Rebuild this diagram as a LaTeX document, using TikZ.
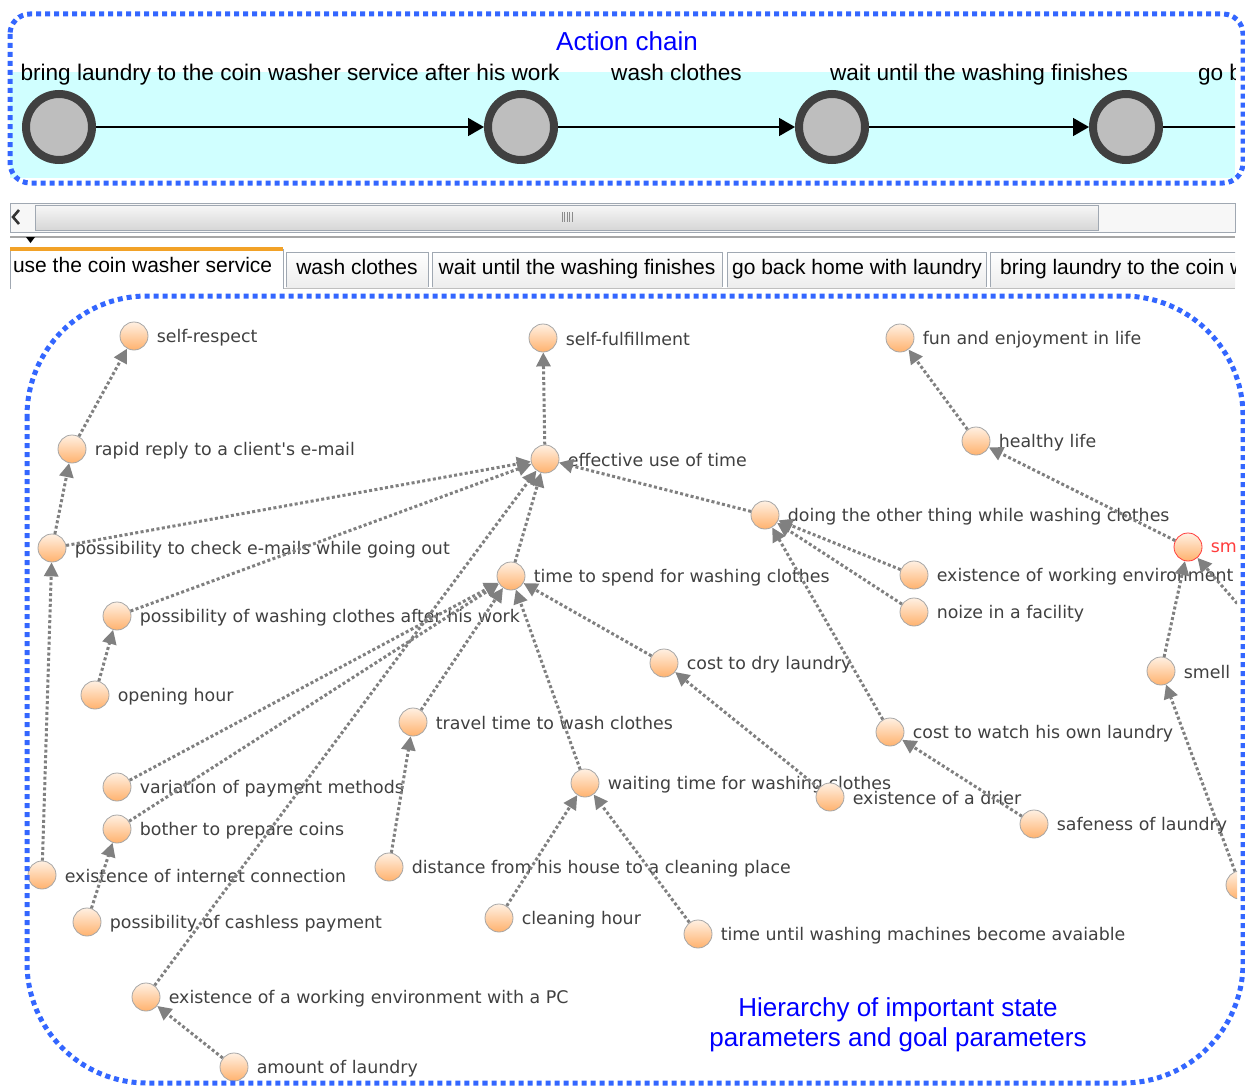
\documentclass[tikz,border=0pt]{standalone}
\usepackage{fontspec}
\setmainfont{Liberation Sans}
\newfontfamily\paramfont{DejaVu Sans}
\usetikzlibrary{arrows.meta}
\definecolor{chainblue}{RGB}{51,102,255}
\definecolor{titleblue}{RGB}{0,0,255}
\definecolor{bandcyan}{RGB}{208,255,255}
\definecolor{ringgray}{RGB}{64,64,64}
\definecolor{discgray}{RGB}{190,190,190}
\definecolor{edgegray}{RGB}{128,128,128}
\definecolor{peachtop}{RGB}{255,240,226}
\definecolor{peachbot}{RGB}{255,178,110}
\definecolor{tabedge}{RGB}{160,168,178}
\definecolor{taborange}{RGB}{242,162,40}
\definecolor{alertred}{RGB}{255,60,60}

\begin{document}
\begin{tikzpicture}[x = 0.5pt, y = -0.5pt,
  panel/.style = {draw = chainblue, line width = 2.5pt, dash pattern = on 2.5pt off 2pt},
  action/.style = {circle, draw = ringgray, fill = discgray, line width = 4pt, minimum size = 33pt, inner sep = 0pt},
  chain/.style = {black, line width = 0.75pt, -{Triangle[length = 8pt, width = 9pt]}},
  chainlabel/.style = {font = \fontsize{11.3}{13}\selectfont, text height = 8.2pt, text depth = 2.4pt, yshift = 26pt},
  param/.style = {circle, draw = black!35, top color = peachtop, bottom color = peachbot, minimum size = 14pt, inner sep = 0pt},
  every label/.style = {font = \paramfont\fontsize{8.7}{10}\selectfont, text = black!75, inner sep = 0pt, xshift = 4pt, yshift = -0.6pt},
  link/.style = {draw = edgegray, line width = 1.5pt, dash pattern = on 1.5pt off 1.2pt, -{Triangle[length = 7pt, width = 7pt, fill = edgegray]}},
  tab/.style = {draw = tabedge, top color = white, bottom color = black!7},
  tabtext/.style = {font = \fontsize{10.5}{12}\selectfont, text height = 7.6pt, text depth = 2.2pt},
  caption/.style = {font = \fontsize{13}{15}\selectfont, text = titleblue, align = center}
]
\useasboundingbox (0,0) rectangle (1245,1086);

\begin{scope}
\clip (10,14) rectangle (1235,183);
\fill [bandcyan] (10,72) rectangle (1235,178);
\node [action] (a1) at (59,127) {};
\node [action] (a2) at (521,127) {};
\node [action] (a3) at (832,127) {};
\node [action] (a4) at (1126,127) {};
\coordinate (a5) at (1502,127);
\draw [chain] (a1) -- node [chainlabel] {bring laundry to the coin washer service after his work} (a2);
\draw [chain] (a2) -- node [chainlabel] {wash clothes} (a3);
\draw [chain] (a3) -- node [chainlabel] {wait until the washing finishes} (a4);
\draw [chain] (a4) -- node [chainlabel] {go back home with laundry} (a5);
\end{scope}
\draw [panel, rounded corners = 10pt] (10,14) rectangle (1243,183);
\node [font = \fontsize{13}{15}\selectfont, text = titleblue] (chaintitle) at (627,41) {Action chain};

\draw [tabedge, fill = black!3] (10,203) rectangle (1235,232);
\draw [tabedge, top color = black!3, bottom color = black!16] (35,205) rectangle (1098,230);
\draw [black!80, line width = 1.3pt] (19,210) -- (13,217) -- (19,224);
\foreach \gx in {562,564.5,...,572} \draw [black!45, line width = 0.4pt] (\gx,212) -- (\gx,222);
\draw [black!35, line width = 1pt] (10,237) -- (1235,237);
\fill [black] (26,237) -- (35,237) -- (30.5,243) -- cycle;

\begin{scope}
\clip (10,240) rectangle (1235,292);
\draw [black!25] (10,288) -- (1235,288);
\draw [tabedge, fill = white] (10,289) -- (10,249) -- (283,249) -- (283,289);
\fill [taborange] (10,247) rectangle (283,251);
\draw [tab] (286,287) -- (286,252) -- (428,252) -- (428,287);
\draw [tab] (432,287) -- (432,252) -- (722,252) -- (722,287);
\draw [tab] (727,287) -- (727,252) -- (986,252) -- (986,287);
\draw [tab] (990,287) -- (990,252) -- (1240,252) -- (1240,287);
\node [tabtext, anchor = west] (t1) at (6,267) {use the coin washer service};
\node [tabtext] (t2) at (357,269) {wash clothes};
\node [tabtext] (t3) at (577,269) {wait until the washing finishes};
\node [tabtext] (t4) at (857,269) {go back home with laundry};
\node [tabtext, anchor = west] (t5) at (993,269) {bring laundry to the coin washer};
\end{scope}

\begin{scope}
\clip (0,296) rectangle (1237,1086);
\node [param, label = right:self-respect] (selfresp) at (134,336) {};
\node [param, label = right:self-fulfillment] (selffulf) at (543,338) {};
\node [param, label = right:fun and enjoyment in life] (fun) at (900,338) {};
\node [param, label = right:rapid reply to a client's e-mail] (rapid) at (72,449) {};
\node [param, label = right:effective use of time] (effective) at (545,459) {};
\node [param, label = right:healthy life] (healthy) at (976,441) {};
\node [param, label = right:possibility to check e-mails while going out] (checkmail) at (52,548) {};
\node [param, label = right:doing the other thing while washing clothes] (doing) at (765,515) {};
\node [param, draw = alertred, label = {[text = alertred]right:sm}] (sm) at (1188,547) {};
\node [param, label = right:time to spend for washing clothes] (timespend) at (511,576) {};
\node [param, label = right:existence of working environment] (existwork) at (914,575) {};
\node [param, label = right:noize in a facility] (noize) at (914,612) {};
\node [param, label = right:possibility of washing clothes after his work] (possafter) at (117,616) {};
\node [param, label = right:cost to dry laundry] (costdry) at (664,663) {};
\node [param, label = right:opening hour] (opening) at (95,695) {};
\node [param, label = right:smell] (smell) at (1161,671) {};
\node [param, label = right:travel time to wash clothes] (travel) at (413,722) {};
\node [param, label = right:cost to watch his own laundry] (costwatch) at (890,732) {};
\node [param, label = right:variation of payment methods] (variation) at (117,787) {};
\node [param, label = right:waiting time for washing clothes] (waiting) at (585,783) {};
\node [param, label = right:existence of a drier] (drier) at (830,797) {};
\node [param, label = right:safeness of laundry] (safeness) at (1034,824) {};
\node [param, label = right:bother to prepare coins] (bother) at (117,829) {};
\node [param, label = right:existence of internet connection] (internet) at (42,875) {};
\node [param, label = right:distance from his house to a cleaning place] (distance) at (389,867) {};
\node [param] (offright) at (1240,885) {};
\node [param, label = right:possibility of cashless payment] (cashless) at (87,922) {};
\node [param, label = right:cleaning hour] (cleaning) at (499,918) {};
\node [param, label = right:time until washing machines become avaiable] (timeuntil) at (698,934) {};
\node [param, label = right:existence of a working environment with a PC] (workpc) at (146,997) {};
\node [param, label = right:amount of laundry] (amount) at (234,1067) {};
\coordinate (smright) at (1262,632);

\draw [link] (rapid) -- (selfresp);
\draw [link] (checkmail) -- (rapid);
\draw [link] (internet) -- (checkmail);
\draw [link] (checkmail) -- (effective);
\draw [link] (possafter) -- (effective);
\draw [link] (opening) -- (possafter);
\draw [link] (effective) -- (selffulf);
\draw [link] (doing) -- (effective);
\draw [link] (existwork) -- (doing);
\draw [link] (noize) -- (doing);
\draw [link] (costwatch) -- (doing);
\draw [link] (timespend) -- (effective);
\draw [link] (workpc) -- (effective);
\draw [link] (amount) -- (workpc);
\draw [link] (variation) -- (timespend);
\draw [link] (bother) -- (timespend);
\draw [link] (cashless) -- (bother);
\draw [link] (travel) -- (timespend);
\draw [link] (distance) -- (travel);
\draw [link] (waiting) -- (timespend);
\draw [link] (cleaning) -- (waiting);
\draw [link] (timeuntil) -- (waiting);
\draw [link] (costdry) -- (timespend);
\draw [link] (drier) -- (costdry);
\draw [link] (safeness) -- (costwatch);
\draw [link] (sm) -- (healthy);
\draw [link] (healthy) -- (fun);
\draw [link] (smell) -- (sm);
\draw [link] (smright) -- (sm);
\draw [link] (offright) -- (smell);
\end{scope}
\draw [panel, rounded corners = 60pt] (27,296) rectangle (1243,1083);
\node [caption] (hierarchy) at (898,1025) {Hierarchy of important state\\parameters and goal parameters};
\end{tikzpicture}
\end{document}
